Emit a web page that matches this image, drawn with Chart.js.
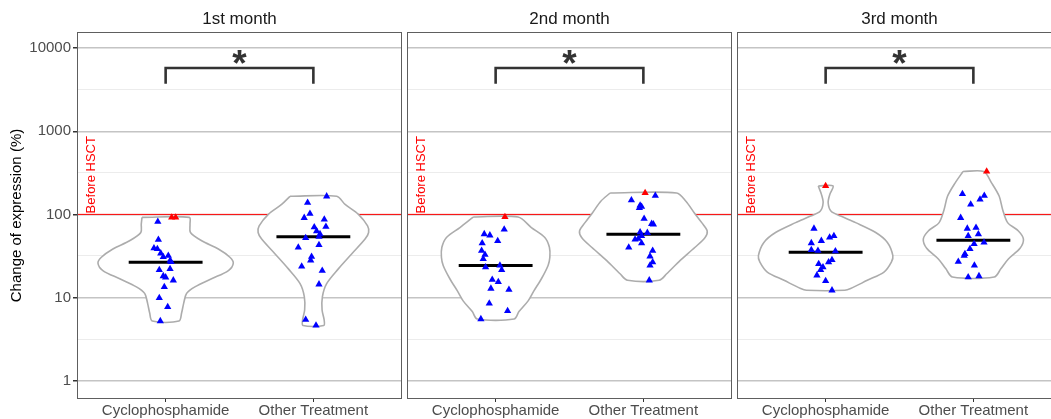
<!DOCTYPE html>
<html>
<head>
<meta charset="utf-8">
<script src="https://cdn.jsdelivr.net/npm/chart.js@4.4.1/dist/chart.umd.min.js"></script>
<style>
  html, body { margin: 0; padding: 0; background: #fff; overflow: hidden; }
  #wrap { position: relative; width: 1051px; height: 419px; overflow: hidden; background: #fff; }
  #wrap canvas { position: absolute; top: 0; }
</style>
</head>
<body>
<div id="wrap">
  <canvas id="p1" width="403" height="419" style="left:0px"></canvas>
  <canvas id="p2" width="327" height="419" style="left:406px"></canvas>
  <canvas id="p3" width="327" height="419" style="left:736px"></canvas>
</div>
<script>
const FONT = "'Liberation Sans', Arial, Helvetica, sans-serif";

// ---- labels and axis breaks ----
const facetTitles = ['1st month', '2nd month', '3rd month'];
const groupLabels = ['Cyclophosphamide', 'Other Treatment'];
const yAxisTitle = 'Change of expression (%)';
const yMajorTicks = [1, 10, 100, 1000, 10000];
const yMinorTicks = [3.162, 31.62, 316.2, 3162];
const yLimits = [0.638, 15670];
const baselineLevel = 100;
const baselineLabel = 'Before HSCT';
const signifLabel = '*';
const bracketLevels = [3730, 5780];

// ---- month 1 ----
const m1CycloValues = [92, 92, 81.8, 49.7, 39.1, 38.3, 34, 31.9, 30.8, 27.8, 26.8, 22.1, 21.5, 18.1, 17.5, 16.1, 13.4, 9.9, 7.7, 5.2];
const m1CycloJitter = [0.041, 0.068, -0.053, -0.049, -0.079, -0.056, -0.033, 0.018, -0.016, 0.03, 0.037, 0.03, -0.043, -0.016, 0, 0.052, -0.009, -0.043, 0.014, -0.036];
const m1CycloFlagged = [0, 1];
const m1OtherValues = [165, 138, 102, 91, 87, 71, 70, 63, 58, 54, 52, 43, 40, 31, 28, 23.6, 21, 14.4, 5.4, 4.6];
const m1OtherJitter = [0.09, -0.039, -0.023, -0.062, 0.074, 0.085, 0.006, 0.022, 0.045, 0.038, -0.052, 0.038, -0.102, -0.012, -0.018, -0.079, 0.06, 0.038, -0.052, 0.018];
const m1OtherFlagged = [];

// ---- month 2 ----
const m2CycloValues = [93, 66, 58, 56, 48, 45, 36.6, 32.8, 29.1, 24.3, 23.2, 21.5, 16.4, 15.4, 12.8, 12.4, 8.5, 6.9, 5.5];
const m2CycloJitter = [0.063, 0.058, -0.077, -0.039, 0.014, -0.091, -0.095, -0.072, -0.084, 0.029, -0.068, 0.041, -0.023, 0.018, -0.032, 0.09, -0.043, 0.081, -0.1];
const m2CycloFlagged = [0];
const m2OtherValues = [181, 168, 148, 128, 124, 120, 89, 77, 76, 61, 60, 55, 51, 50, 45, 40, 36.6, 31.3, 26.6, 24.3, 16.1];
const m2OtherJitter = [0.012, 0.081, -0.081, -0.022, -0.012, -0.027, 0.005, 0.056, 0.068, -0.022, 0.027, -0.012, -0.034, -0.056, -0.012, -0.099, 0.063, 0.045, 0.063, 0.045, 0.04];
const m2OtherFlagged = [0];

// ---- month 3 ----
const m3CycloValues = [220, 67.5, 55.2, 52.8, 48.1, 45.2, 37.3, 36.6, 36, 28.3, 26.6, 25.4, 23.2, 21.5, 18.5, 15.8, 12.2];
const m3CycloJitter = [0, -0.079, 0.056, 0.027, -0.029, -0.097, -0.097, -0.052, 0.066, 0.043, 0.02, -0.047, -0.018, -0.034, -0.059, 0, 0.043];
const m3CycloFlagged = [0];
const m3OtherValues = [328, 176, 168, 151, 132, 91, 69.3, 67.5, 57.8, 55.2, 46, 44, 38.3, 33.4, 31.9, 27, 24.3, 18.1, 17.6];
const m3OtherJitter = [0.09, -0.074, 0.074, 0.045, -0.018, -0.086, 0.018, -0.041, 0.034, -0.035, 0.072, 0.005, -0.023, -0.057, -0.062, -0.102, 0.007, 0.038, -0.035];
const m3OtherFlagged = [0];

// ---- group medians per month ----
const m1Medians = [26.6, 53.7];
const m2Medians = [24.3, 57.8];
const m3Medians = [35, 49];

// ---- violin outlines: levels (top to bottom) and half-widths in category units ----
const m1CycloViolinLevels = [92, 76, 60.5, 48.1, 38.3, 30.5, 25.9, 21.1, 16.8, 13.4, 11.2, 8.5, 6.5, 5.2];
const m1CycloViolinWidths = [0.16, 0.165, 0.168, 0.244, 0.357, 0.435, 0.458, 0.425, 0.311, 0.198, 0.142, 0.122, 0.108, 0.09];
const m1OtherViolinLevels = [165, 131.6, 100, 72.6, 60.5, 50.4, 33.4, 22.1, 14.7, 10.2, 7.06, 5.37, 4.6];
const m1OtherViolinWidths = [0.158, 0.215, 0.305, 0.367, 0.374, 0.35, 0.259, 0.169, 0.09, 0.061, 0.059, 0.073, 0.07];
const m2CycloViolinLevels = [93, 69.5, 52.8, 40.2, 30.5, 24.3, 16.8, 12.0, 9.1, 6.76, 5.5];
const m2CycloViolinWidths = [0.152, 0.242, 0.333, 0.364, 0.367, 0.355, 0.31, 0.259, 0.22, 0.158, 0.125];
const m2OtherViolinLevels = [181, 144, 104.8, 79.6, 63.2, 52.8, 40.2, 27.8, 19.3, 16.1];
const m2OtherViolinWidths = [0.225, 0.288, 0.344, 0.395, 0.432, 0.418, 0.35, 0.248, 0.158, 0.107];
const m3CycloViolinLevels = [220, 173, 138, 109, 95.4, 79.6, 60.5, 46, 31.9, 26.6, 20.2, 16.1, 12.8, 12.2];
const m3CycloViolinWidths = [0.05, 0.028, 0.017, 0.037, 0.102, 0.203, 0.339, 0.418, 0.455, 0.445, 0.395, 0.282, 0.169, 0.13];
const m3OtherViolinLevels = [328, 238, 165, 114.7, 79.6, 63.2, 50.4, 39.1, 29.1, 22.1, 17.6];
const m3OtherViolinWidths = [0.07, 0.124, 0.175, 0.198, 0.232, 0.305, 0.339, 0.316, 0.237, 0.186, 0.141];

const facets = [
  {
    groups: [
      { values: m1CycloValues, jitter: m1CycloJitter, flagged: m1CycloFlagged, levels: m1CycloViolinLevels, widths: m1CycloViolinWidths },
      { values: m1OtherValues, jitter: m1OtherJitter, flagged: m1OtherFlagged, levels: m1OtherViolinLevels, widths: m1OtherViolinWidths }
    ],
    medians: m1Medians
  },
  {
    groups: [
      { values: m2CycloValues, jitter: m2CycloJitter, flagged: m2CycloFlagged, levels: m2CycloViolinLevels, widths: m2CycloViolinWidths },
      { values: m2OtherValues, jitter: m2OtherJitter, flagged: m2OtherFlagged, levels: m2OtherViolinLevels, widths: m2OtherViolinWidths }
    ],
    medians: m2Medians
  },
  {
    groups: [
      { values: m3CycloValues, jitter: m3CycloJitter, flagged: m3CycloFlagged, levels: m3CycloViolinLevels, widths: m3CycloViolinWidths },
      { values: m3OtherValues, jitter: m3OtherJitter, flagged: m3OtherFlagged, levels: m3OtherViolinLevels, widths: m3OtherViolinWidths }
    ],
    medians: m3Medians
  }
];

const COLORS = {
  point: '#0000ff',
  flagged: '#ff0000',
  violin: '#acacac',
  median: '#000000',
  bracket: '#333333',
  baseline: '#ff0000',
  gridMajor: '#c4c4c4',
  gridMinor: '#ececec',
  border: '#5e5e5e',
  tickText: '#4d4d4d'
};

const isMajor = v => yMajorTicks.includes(v);

// draws the significance star, the baseline caption and the panel frame
const panelDecor = {
  id: 'panelDecor',
  afterDatasetsDraw(chart) {
    const { ctx, scales: { x, y } } = chart;
    ctx.save();
    ctx.fillStyle = COLORS.bracket;
    ctx.font = `bold 37px ${FONT}`;
    ctx.textAlign = 'center';
    ctx.textBaseline = 'alphabetic';
    ctx.fillText(signifLabel, x.getPixelForValue(1.5), y.getPixelForValue(bracketLevels[1]) + 8);
    ctx.restore();

    ctx.save();
    ctx.translate(x.getPixelForValue(0.5), y.getPixelForValue(baselineLevel) - 1);
    ctx.rotate(-Math.PI / 2);
    ctx.fillStyle = COLORS.baseline;
    ctx.font = `13px ${FONT}`;
    ctx.textAlign = 'left';
    ctx.textBaseline = 'middle';
    ctx.fillText(baselineLabel, 0, 0);
    ctx.restore();
  },
  afterDraw(chart) {
    const { ctx, chartArea: a } = chart;
    ctx.save();
    ctx.strokeStyle = COLORS.border;
    ctx.lineWidth = 1;
    ctx.strokeRect(a.left + 0.5, a.top + 0.5, a.right - a.left - 1, a.bottom - a.top - 1);
    ctx.restore();
  }
};

function violinPath(center, levels, widths) {
  const left = levels.map((v, i) => ({ x: center - widths[i], y: v }));
  const right = levels.map((v, i) => ({ x: center + widths[i], y: v })).reverse();
  return [...left, ...right, left[0]];
}

function buildPanel(canvasId, facetIndex, showYAxis) {
  const facet = facets[facetIndex];
  const datasets = [];

  facet.groups.forEach((g, gi) => {
    const c = gi + 1;
    datasets.push({
      data: g.values.map((v, i) => ({ x: c + g.jitter[i], y: v })),
      showLine: false,
      pointStyle: 'triangle',
      pointRadius: 4.2,
      pointBorderWidth: 0,
      pointBackgroundColor: g.values.map((v, i) => g.flagged.includes(i) ? COLORS.flagged : COLORS.point),
      order: 0
    });
    datasets.push({
      data: [{ x: c - 0.25, y: facet.medians[gi] }, { x: c + 0.25, y: facet.medians[gi] }],
      borderColor: COLORS.median,
      borderWidth: 3,
      pointRadius: 0,
      borderCapStyle: 'butt',
      order: 1
    });
    datasets.push({
      data: violinPath(c, g.levels, g.widths),
      borderColor: COLORS.violin,
      backgroundColor: '#ffffff',
      borderWidth: 1.6,
      pointRadius: 0,
      tension: 0.3,
      fill: 'shape',
      order: 2
    });
  });

  datasets.push({
    data: [{ x: 1, y: bracketLevels[0] }, { x: 1, y: bracketLevels[1] }, { x: 2, y: bracketLevels[1] }, { x: 2, y: bracketLevels[0] }],
    borderColor: COLORS.bracket,
    borderWidth: 2.6,
    pointRadius: 0,
    borderJoinStyle: 'miter',
    borderCapStyle: 'butt',
    order: 1
  });
  datasets.push({
    data: [{ x: 0.4, y: baselineLevel }, { x: 2.6, y: baselineLevel }],
    borderColor: COLORS.baseline,
    borderWidth: 1,
    pointRadius: 0,
    order: 3
  });

  new Chart(document.getElementById(canvasId), {
    type: 'line',
    data: { datasets },
    options: {
      responsive: false,
      animation: false,
      events: [],
      layout: { autoPadding: false, padding: { left: showYAxis ? 0 : 1, right: 1, top: 0, bottom: 0 } },
      plugins: {
        legend: { display: false },
        tooltip: { enabled: false },
        title: {
          display: true,
          text: facetTitles[facetIndex],
          fullSize: false,
          color: '#1a1a1a',
          font: { family: FONT, size: 17, weight: 'normal' },
          padding: { top: 9, bottom: 2.6 }
        }
      },
      scales: {
        x: {
          type: 'linear',
          min: 0.4,
          max: 2.6,
          afterBuildTicks: s => { s.ticks = [{ value: 1 }, { value: 2 }]; },
          afterFit: s => { s.height = 20; },
          ticks: {
            callback: v => groupLabels[v - 1],
            color: COLORS.tickText,
            font: { family: FONT, size: 15 },
            padding: 0,
            maxRotation: 0,
            autoSkip: false
          },
          grid: { drawOnChartArea: false, drawTicks: true, tickLength: 3, tickColor: '#333333', tickWidth: 1 },
          border: { display: false }
        },
        y: {
          type: 'logarithmic',
          min: yLimits[0],
          max: yLimits[1],
          afterBuildTicks: s => {
            s.ticks = [...yMajorTicks, ...yMinorTicks].sort((a, b) => a - b).map(v => ({ value: v, major: isMajor(v) }));
          },
          afterFit: s => { s.width = showYAxis ? 77 : 0; },
          ticks: {
            display: showYAxis,
            callback: v => isMajor(v) ? String(v) : '',
            color: COLORS.tickText,
            font: { family: FONT, size: 15 },
            padding: 2,
            autoSkip: false
          },
          grid: {
            color: c => (c.tick && isMajor(c.tick.value)) ? COLORS.gridMajor : COLORS.gridMinor,
            lineWidth: c => (c.tick && isMajor(c.tick.value)) ? 1.5 : 1,
            drawTicks: showYAxis,
            tickLength: 4,
            tickColor: c => (c.tick && isMajor(c.tick.value)) ? '#333333' : 'rgba(0,0,0,0)'
          },
          border: { display: false },
          title: {
            display: showYAxis,
            text: yAxisTitle,
            color: '#000000',
            font: { family: FONT, size: 15 },
            padding: { top: 8, bottom: 0 }
          }
        }
      }
    },
    plugins: [panelDecor]
  });
}

buildPanel('p1', 0, true);
buildPanel('p2', 1, false);
buildPanel('p3', 2, false);
</script>
</body>
</html>
